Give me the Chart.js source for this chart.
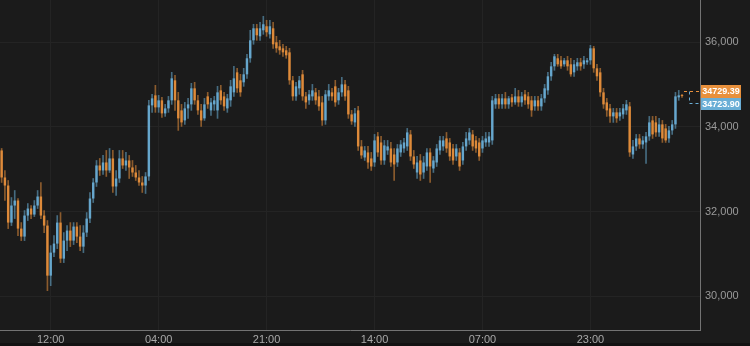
<!DOCTYPE html>
<html>
<head>
<meta charset="utf-8">
<script src="https://cdn.jsdelivr.net/npm/chart.js@4.4.1/dist/chart.umd.min.js"></script>
<style>
  html, body { margin: 0; padding: 0; background: #1b1b1b; }
  #wrap { width: 750px; height: 346px; }
</style>
</head>
<body>
<div id="wrap"><canvas id="chartVelas" width="750" height="346"></canvas></div>
<script>
// candle values (30 min candles)
const opens = [
  33444, 32805, 32615, 31739, 32142, 32260, 31597, 31408, 31905, 32071,
  31929, 32142, 32355, 31905, 31668, 30485, 31029, 31242, 31739, 30887,
  31313, 31550, 31313, 31645, 31408, 31171, 31503, 31834, 32308, 32687,
  33089, 32971, 33160, 32971, 33255, 32592, 32781, 33255, 33089, 33207,
  33042, 32923, 32805, 32687, 32615, 32829, 34509, 34746, 34462, 34628,
  34320, 34438, 34628, 35101, 34628, 34391, 34154, 34438, 34533, 34912,
  34628, 34391, 34202, 34722, 34391, 34533, 34391, 34864, 34722, 34438,
  34628, 34817, 35290, 35101, 35054, 35243, 35622, 36047, 36331, 36142,
  36284, 36379, 36189, 36331, 36000, 35905, 35858, 35811, 35763, 35101,
  34722, 34912, 35243, 34722, 34628, 34722, 34817, 34722, 34580, 34154,
  34722, 34817, 34959, 34628, 34817, 35006, 34864, 34296, 34107, 34391,
  33539, 33278, 33397, 33255, 33160, 33776, 33633, 33207, 33444, 33491,
  33349, 33160, 33397, 33491, 33539, 33823, 33302, 32923, 33207, 32923,
  33065, 33397, 33018, 33160, 33444, 33539, 33728, 33633, 33491, 33302,
  33397, 33207, 33539, 33681, 33823, 33681, 33633, 33491, 33633, 33633,
  33681, 34533, 34675, 34533, 34675, 34533, 34699, 34580, 34722, 34580,
  34770, 34722, 34628, 34486, 34628, 34486, 34675, 34864, 35196, 35432,
  35622, 35574, 35480, 35574, 35480, 35290, 35432, 35527, 35480, 35527,
  35574, 35858, 35385, 35290, 34817, 34580, 34438, 34249, 34344, 34249,
  34296, 34391, 34486, 33349, 33539, 33728, 33586, 33633, 33776, 34154,
  34107, 33870, 34060, 33965, 33728, 33918, 34060, 34699, 34746
];
const highs = [
  33491, 32971, 32734, 32331, 32497, 32308, 31739, 32024, 32189, 32142,
  32260, 32497, 32687, 32024, 31787, 31195, 31432, 31905, 31976, 31503,
  31668, 31739, 31739, 31739, 31668, 31668, 31976, 32450, 32781, 33207,
  33255, 33326, 33444, 33491, 33444, 32971, 33444, 33444, 33397, 33326,
  33207, 33089, 32971, 32829, 32923, 34628, 34770, 34983, 34746, 34699,
  34533, 34722, 35290, 35219, 34817, 34533, 34580, 34675, 35030, 35054,
  34746, 34533, 34675, 34817, 34675, 34722, 34959, 34983, 34817, 34770,
  35101, 35432, 35385, 35243, 35385, 35716, 36284, 36426, 36426, 36473,
  36615, 36521, 36521, 36473, 36142, 36047, 35953, 35905, 35858, 35196,
  35054, 35196, 35338, 34817, 34864, 35006, 34912, 34864, 34722, 34864,
  35006, 34912, 35101, 34912, 35172, 35101, 34959, 34391, 34438, 34486,
  33681, 33539, 33539, 33397, 33823, 33870, 33776, 33681, 33681, 33633,
  33491, 33586, 33681, 33728, 33965, 33918, 33444, 33302, 33349, 33302,
  33491, 33491, 33302, 33586, 33776, 33776, 33870, 33728, 33586, 33586,
  33491, 33633, 33870, 33965, 33918, 33776, 33728, 33776, 33870, 33870,
  34722, 34770, 34770, 34770, 34817, 34722, 34770, 34912, 34864, 34817,
  34864, 34817, 34722, 34722, 34722, 34770, 35006, 35290, 35527, 35716,
  35716, 35669, 35622, 35669, 35622, 35574, 35622, 35622, 35669, 35622,
  35929, 35905, 35480, 35385, 34912, 34675, 34533, 34438, 34438, 34438,
  34533, 34628, 34580, 33681, 33823, 33823, 33776, 33870, 34249, 34249,
  34249, 34202, 34154, 34060, 34012, 34154, 34817, 34864, 34770
];
const lows = [
  32687, 32260, 31597, 31668, 31834, 31432, 31313, 31313, 31787, 31834,
  31881, 32071, 31834, 31503, 30130, 30248, 30935, 31124, 30793, 30793,
  31077, 31171, 31219, 31266, 31077, 31029, 31408, 31739, 32213, 32592,
  32852, 32876, 32829, 32923, 32450, 32379, 32687, 33018, 32971, 32781,
  32829, 32734, 32615, 32450, 32426, 32734, 34344, 34344, 34344, 34225,
  34249, 34344, 34533, 34391, 33918, 34012, 34060, 34202, 34391, 34533,
  34296, 34012, 34154, 34438, 34273, 34391, 34202, 34533, 34391, 34344,
  34486, 34722, 34817, 34722, 34959, 35148, 35527, 35953, 36047, 36047,
  36189, 36142, 36095, 35858, 35763, 35716, 35669, 35622, 35006, 34628,
  34628, 34770, 34628, 34438, 34533, 34628, 34533, 34391, 34036, 34060,
  34628, 34628, 34486, 34533, 34722, 34628, 34202, 34060, 34012, 33444,
  33255, 33207, 33018, 32971, 33065, 33302, 33113, 33113, 33349, 33065,
  32734, 33065, 33302, 33397, 33444, 33207, 33018, 32781, 32734, 32781,
  32971, 32687, 32923, 33065, 33349, 33444, 33397, 33207, 33113, 33207,
  32971, 33113, 33444, 33586, 33444, 33397, 33207, 33397, 33539, 33539,
  33586, 34438, 34438, 34438, 34438, 34438, 34486, 34533, 34486, 34486,
  34533, 34438, 34249, 34391, 34391, 34391, 34580, 34770, 35101, 35338,
  35432, 35385, 35432, 35338, 35196, 35196, 35338, 35338, 35385, 35480,
  35480, 35290, 35101, 34722, 34438, 34249, 34107, 34107, 34107, 34154,
  34202, 34296, 33302, 33255, 33444, 33491, 33491, 33136, 33681, 33728,
  33776, 33776, 33633, 33633, 33633, 33823, 33965, 34628, 34699
];
const closes = [
  32805, 32615, 31739, 32142, 32260, 31597, 31408, 31905, 32071, 31929,
  32142, 32355, 31905, 31668, 30485, 31029, 31242, 31739, 30887, 31313,
  31550, 31313, 31645, 31408, 31171, 31503, 31834, 32308, 32687, 33089,
  32971, 33160, 32971, 33255, 32592, 32781, 33255, 33089, 33207, 33042,
  32923, 32805, 32687, 32615, 32829, 34509, 34675, 34462, 34628, 34320,
  34438, 34628, 35148, 34628, 34202, 34107, 34438, 34533, 34912, 34628,
  34391, 34154, 34533, 34533, 34580, 34628, 34817, 34628, 34486, 34675,
  34959, 35148, 34912, 34817, 35243, 35622, 36047, 36331, 36166, 36331,
  36426, 36237, 36379, 35953, 35858, 35811, 35763, 35693, 35101, 34722,
  34959, 35101, 34722, 34580, 34770, 34864, 34628, 34486, 34154, 34770,
  34864, 34722, 34580, 34817, 35006, 34722, 34296, 34131, 34320, 33539,
  33326, 33444, 33160, 33065, 33681, 33397, 33207, 33562, 33539, 33160,
  33113, 33491, 33586, 33633, 33870, 33302, 33113, 33160, 32876, 33160,
  33397, 33065, 33207, 33491, 33681, 33681, 33491, 33302, 33207, 33491,
  33065, 33539, 33728, 33870, 33539, 33491, 33302, 33681, 33728, 33776,
  34628, 34675, 34533, 34675, 34533, 34675, 34580, 34722, 34580, 34722,
  34628, 34533, 34391, 34628, 34486, 34675, 34912, 35196, 35432, 35669,
  35480, 35432, 35574, 35432, 35243, 35480, 35527, 35432, 35574, 35574,
  35858, 35385, 35196, 34817, 34533, 34391, 34249, 34344, 34202, 34344,
  34438, 34533, 33397, 33539, 33728, 33586, 33681, 33776, 34107, 33823,
  33870, 34060, 33728, 33681, 33918, 34060, 34722, 34746, 34729.39
];

const precioUltimo = 34729.39;
const precioBid = 34723.90;

const totalSlots = 214;
const xTickIdx = [15, 48, 81, 114, 147, 180];
const xTickText = ["12:00", "04:00", "21:00", "14:00", "07:00", "23:00"];
const yTicks = [30000, 32000, 34000, 36000];

const AZUL = "#6aaed6";
const NARANJA = "#e8903c";

function colorVela(i, alpha) {
  const sube = closes[i] >= opens[i];
  if (alpha === 1) return sube ? AZUL : NARANJA;
  return sube ? `rgba(106,174,214,${alpha})` : `rgba(232,144,60,${alpha})`;
}

const fondo = {
  id: "fondo",
  beforeDraw(chart) {
    const c = chart.ctx;
    c.save();
    c.fillStyle = "#1b1b1b";
    c.fillRect(0, 0, chart.width, chart.height);
    c.fillStyle = "#121212";
    c.fillRect(0, chart.height - 3, chart.width, 3);
    c.restore();
  }
};

const etiquetasPrecio = {
  id: "etiquetasPrecio",
  afterDraw(chart) {
    const c = chart.ctx;
    const area = chart.chartArea;
    const y0 = chart.scales.y.getPixelForValue(precioUltimo);
    const xUlt = chart.scales.x.getPixelForValue(closes.length - 1);
    const yNar = Math.round(y0 - 5.5);
    const yAz = Math.round(y0 + 6.5);
    const xQuiebre = Math.round(area.right - 11);

    c.save();
    c.lineWidth = 1;
    c.setLineDash([3, 3]);
    c.strokeStyle = NARANJA;
    c.beginPath();
    c.moveTo(xUlt + 2, yNar + 0.5);
    c.lineTo(area.right, yNar + 0.5);
    c.stroke();
    c.strokeStyle = AZUL;
    c.beginPath();
    c.moveTo(xQuiebre + 0.5, yNar + 0.5);
    c.lineTo(xQuiebre + 0.5, yAz + 0.5);
    c.lineTo(area.right, yAz + 0.5);
    c.stroke();
    c.setLineDash([]);

    const bx = Math.round(area.right) + 1;
    const bw = 40;
    c.fillStyle = NARANJA;
    c.fillRect(bx, yNar - 6, bw, 13);
    c.fillStyle = AZUL;
    c.fillRect(bx, yNar + 7, bw, 12);

    c.fillStyle = "#ffffff";
    c.font = "bold 9px 'Liberation Sans', Arial, sans-serif";
    c.textAlign = "center";
    c.textBaseline = "middle";
    c.fillText(precioUltimo.toFixed(2), bx + bw / 2, yNar + 1);
    c.fillText(precioBid.toFixed(2), bx + bw / 2, yNar + 13.5);
    c.restore();
  }
};

const ctx = document.getElementById("chartVelas");
window.chartVelasRef = new Chart(ctx, {
  type: "bar",
  data: {
    labels: Array.from({ length: totalSlots }, (_, i) => i),
    datasets: [
      {
        label: "cuerpo",
        data: opens.map((o, i) => [o, closes[i]]),
        backgroundColor: (c) => colorVela(c.dataIndex, 0.9),
        barPercentage: 0.75,
        categoryPercentage: 1,
        minBarLength: 1,
        grouped: false,
        order: 1
      },
      {
        label: "mecha",
        data: highs.map((h, i) => [lows[i], h]),
        backgroundColor: (c) => colorVela(c.dataIndex, 0.55),
        barThickness: 1,
        grouped: false,
        order: 2
      }
    ]
  },
  options: {
    responsive: false,
    animation: false,
    devicePixelRatio: 1,
    layout: { padding: 0 },
    plugins: {
      legend: { display: false },
      tooltip: { enabled: false }
    },
    scales: {
      x: {
        type: "category",
        offset: true,
        afterBuildTicks: (axis) => {
          axis.ticks = xTickIdx.map((v) => ({ value: v }));
        },
        afterFit: (scale) => {
          scale.height = 16;
          scale.paddingLeft = 0;
          scale.paddingRight = 0;
        },
        grid: { color: "#242424", offset: false, drawTicks: false },
        border: { display: true, color: "#737373", width: 1 },
        ticks: {
          autoSkip: false,
          maxRotation: 0,
          padding: 3,
          color: "#a8a8a8",
          font: { family: "'Liberation Sans', Arial, sans-serif", size: 11 },
          callback: (v) => xTickText[xTickIdx.indexOf(v)] || ""
        }
      },
      y: {
        position: "right",
        min: 29200,
        max: 37000,
        afterBuildTicks: (axis) => {
          axis.ticks = yTicks.map((v) => ({ value: v }));
        },
        afterFit: (scale) => {
          scale.width = 50;
          scale.paddingTop = 0;
          scale.paddingBottom = 0;
        },
        grid: { color: "#242424", drawTicks: false },
        border: { display: true, color: "#737373", width: 1 },
        ticks: {
          padding: 5,
          color: "#9a9a9a",
          font: { family: "'Liberation Sans', Arial, sans-serif", size: 11 },
          callback: (v) => Number(v).toLocaleString("en-US")
        }
      }
    }
  },
  plugins: [fondo, etiquetasPrecio]
});
</script>
</body>
</html>
